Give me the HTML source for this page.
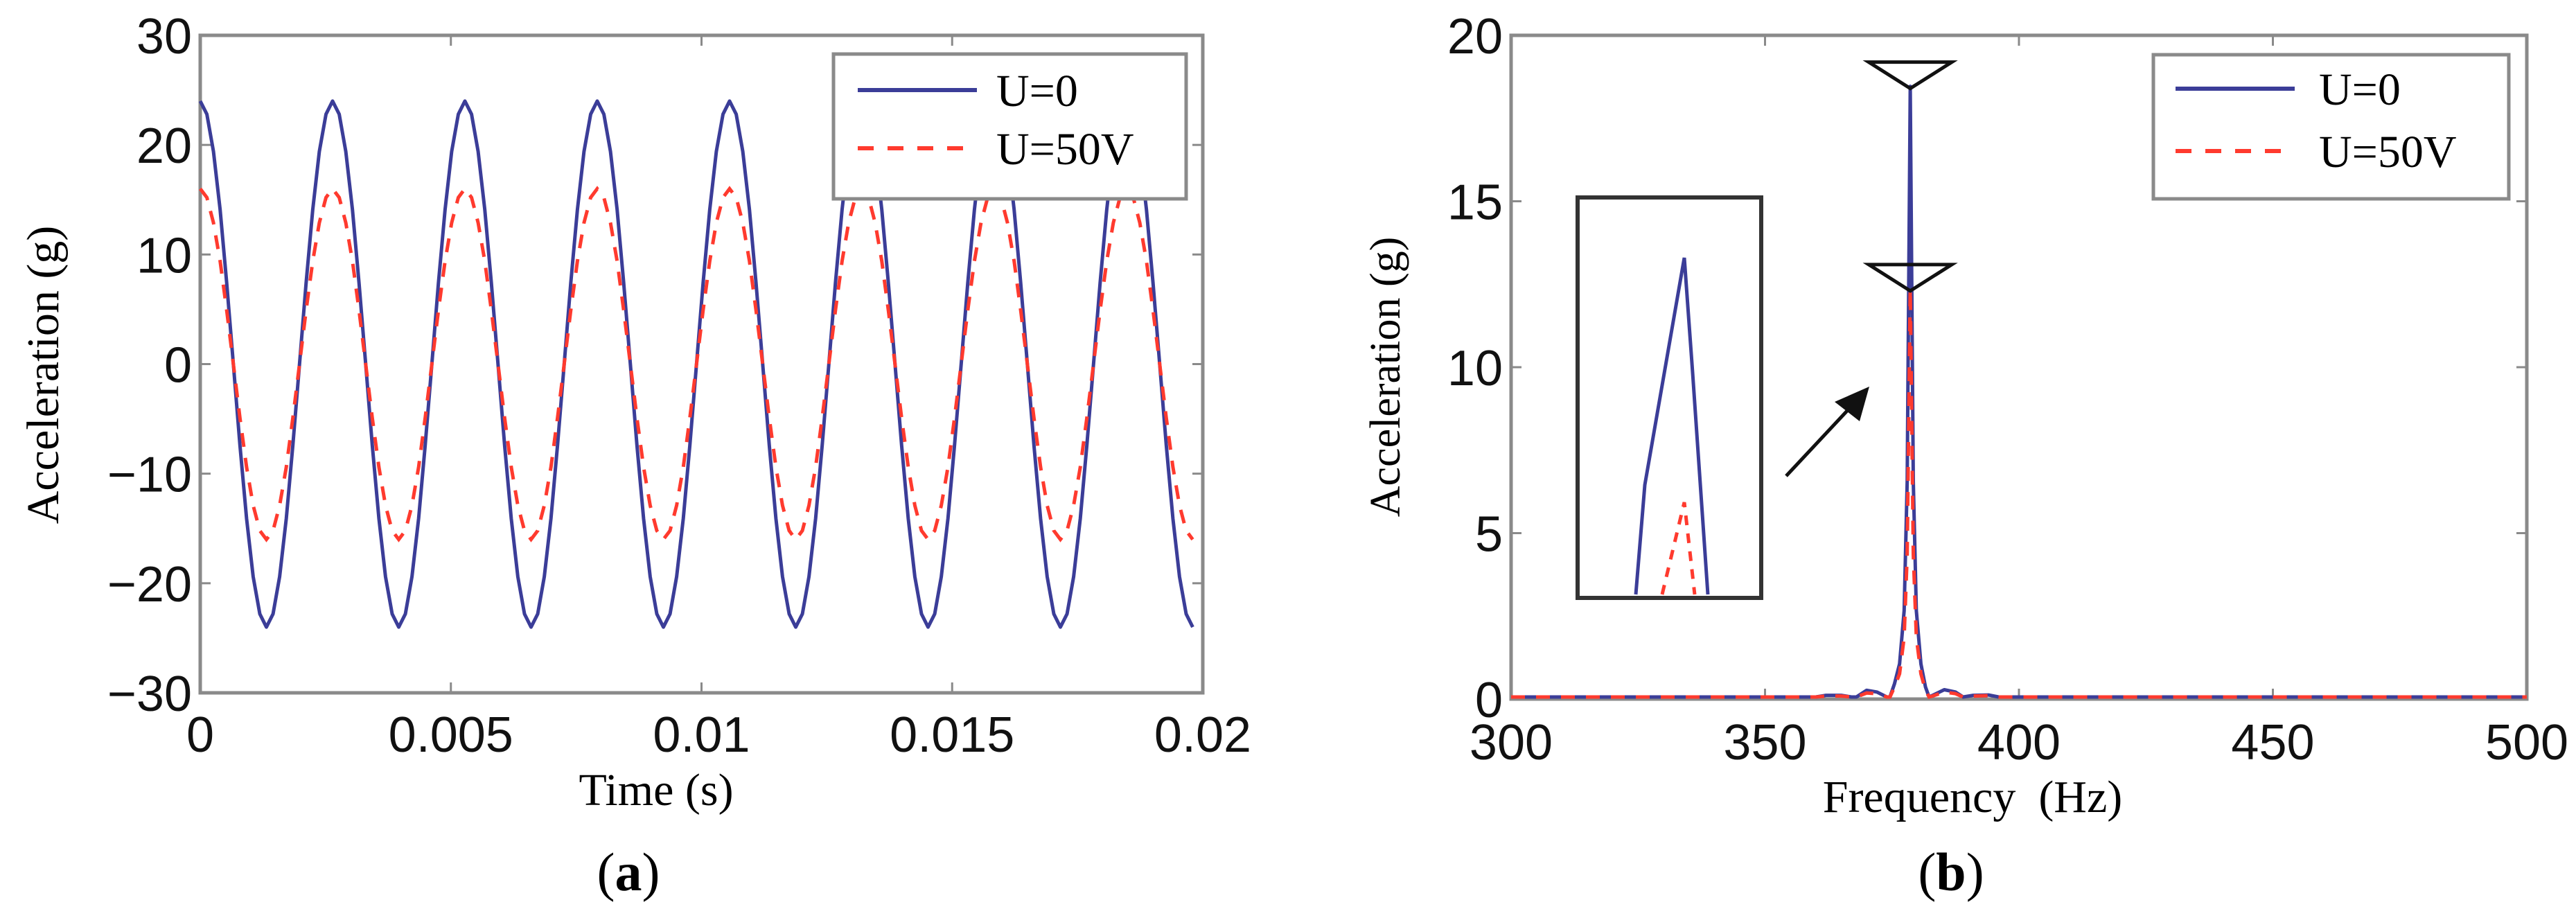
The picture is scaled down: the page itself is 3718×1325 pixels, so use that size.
<!DOCTYPE html>
<html>
<head>
<meta charset="utf-8">
<style>
html,body{margin:0;padding:0;background:#fff;}
svg{display:block;}
.tick{font-family:"Liberation Sans",sans-serif;font-size:72px;fill:#111;}
.lab{font-family:"Liberation Serif",serif;fill:#000;}
</style>
</head>
<body>
<svg id="fig" width="3718" height="1325" viewBox="0 0 3718 1325" xmlns="http://www.w3.org/2000/svg">
<rect width="3718" height="1325" fill="#fff"/>
<g id="pa"></g>
<g id="pb"></g>
</svg>
<script>
// ---------- Chart (a) data ----------
const timeStep = 0.000132;
const blueTime = [24,22.8,19.4,14.1,7.4,0,-7.4,-14.1,-19.4,-22.8,-24,-22.8,-19.4,-14.1,-7.4,0,7.4,14.1,19.4,22.8,
24,22.8,19.4,14.1,7.4,0,-7.4,-14.1,-19.4,-22.8,-24,-22.8,-19.4,-14.1,-7.4,0,7.4,14.1,19.4,22.8,
24,22.8,19.4,14.1,7.4,0,-7.4,-14.1,-19.4,-22.8,-24,-22.8,-19.4,-14.1,-7.4,0,7.4,14.1,19.4,22.8,
24,22.8,19.4,14.1,7.4,0,-7.4,-14.1,-19.4,-22.8,-24,-22.8,-19.4,-14.1,-7.4,0,7.4,14.1,19.4,22.8,
24,22.8,19.4,14.1,7.4,0,-7.4,-14.1,-19.4,-22.8,-24,-22.8,-19.4,-14.1,-7.4,0,7.4,14.1,19.4,22.8,
24,22.8,19.4,14.1,7.4,0,-7.4,-14.1,-19.4,-22.8,-24,-22.8,-19.4,-14.1,-7.4,0,7.4,14.1,19.4,22.8,
24,22.8,19.4,14.1,7.4,0,-7.4,-14.1,-19.4,-22.8,-24,-22.8,-19.4,-14.1,-7.4,0,7.4,14.1,19.4,22.8,
24,22.8,19.4,14.1,7.4,0,-7.4,-14.1,-19.4,-22.8,-24];
const redTime = [16,15.2,12.9,9.4,4.9,0,-4.9,-9.4,-12.9,-15.2,-16,-15.2,-12.9,-9.4,-4.9,0,4.9,9.4,12.9,15.2,
16,15.2,12.9,9.4,4.9,0,-4.9,-9.4,-12.9,-15.2,-16,-15.2,-12.9,-9.4,-4.9,0,4.9,9.4,12.9,15.2,
16,15.2,12.9,9.4,4.9,0,-4.9,-9.4,-12.9,-15.2,-16,-15.2,-12.9,-9.4,-4.9,0,4.9,9.4,12.9,15.2,
16,15.2,12.9,9.4,4.9,0,-4.9,-9.4,-12.9,-15.2,-16,-15.2,-12.9,-9.4,-4.9,0,4.9,9.4,12.9,15.2,
16,15.2,12.9,9.4,4.9,0,-4.9,-9.4,-12.9,-15.2,-16,-15.2,-12.9,-9.4,-4.9,0,4.9,9.4,12.9,15.2,
16,15.2,12.9,9.4,4.9,0,-4.9,-9.4,-12.9,-15.2,-16,-15.2,-12.9,-9.4,-4.9,0,4.9,9.4,12.9,15.2,
16,15.2,12.9,9.4,4.9,0,-4.9,-9.4,-12.9,-15.2,-16,-15.2,-12.9,-9.4,-4.9,0,4.9,9.4,12.9,15.2,
16,15.2,12.9,9.4,4.9,0,-4.9,-9.4,-12.9,-15.2,-16];
const aXTicks = [0,0.005,0.01,0.015,0.02];
const aXTickLabels = ["0","0.005","0.01","0.015","0.02"];
const aYTicks = [-30,-20,-10,0,10,20,30];
const aYTickLabels = ["\u221230","\u221220","\u221210","0","10","20","30"];

// ---------- Chart (b) data ----------
const freqs =   [300,355,360,362,365,367,368,370,372,374,374.6,375.5,376.5,377.4,378,378.6,379.2,379.8,380.7,381.6,382.3,383,385.3,387.5,389,391,394,396,400,500];
const blueAmp = [0,0,0,0.05,0.05,0,0,0.2,0.15,0,0,0.4,1.0,2.6,6.5,18.4,6.5,2.6,1.0,0.3,0,0.05,0.22,0.15,0,0.05,0.06,0,0,0];
const redAmp =  [0,0,0,0.03,0.03,0,0,0.12,0.1,0,0,0.3,0.7,1.8,4.3,12.3,4.3,1.8,0.7,0.2,0,0.03,0.15,0.1,0,0.03,0.04,0,0,0];
const peakValues = [18.4,12.3];
const peakFreq = 378.6;
const bXTicks = [300,350,400,450,500];
const bXTickLabels = ["300","350","400","450","500"];
const bYTicks = [0,5,10,15,20];
const bYTickLabels = ["0","5","10","15","20"];

const NS = "http://www.w3.org/2000/svg";
function mk(parent, tag, attrs){
  const e = document.createElementNS(NS, tag);
  for (const k in attrs) e.setAttribute(k, attrs[k]);
  parent.appendChild(e);
  return e;
}
const BLUE = "#3b3d98", RED = "#ff3a2e", AXC = "#8a8a8a";

function drawAxes(g, L, R, T, B, sx, sy, xt, xtl, yt, ytl, xLabelY){
  const fr = mk(g, "rect", {x:L, y:T, width:R-L, height:B-T, fill:"none", stroke:AXC, "stroke-width":5});
  
  
  xt.forEach((v,i)=>{
    const x = sx(v);
    const t1 = mk(g, "line", {x1:x, x2:x, y1:B, y2:B-15, stroke:AXC, "stroke-width":3});
    
    
    mk(g, "line", {x1:x, x2:x, y1:T, y2:T+15, stroke:AXC, "stroke-width":3});
    const tx = mk(g, "text", {x:x, y:xLabelY, "text-anchor":"middle", class:"tick"});
    tx.textContent = xtl[i];
    
    
  });
  yt.forEach((v,i)=>{
    const y = sy(v);
    const t1 = mk(g, "line", {x1:L, x2:L+15, y1:y, y2:y, stroke:AXC, "stroke-width":3});
    
    
    mk(g, "line", {x1:R, x2:R-15, y1:y, y2:y, stroke:AXC, "stroke-width":3});
    const ty = mk(g, "text", {x:L-12, y:y+26, "text-anchor":"end", class:"tick"});
    ty.textContent = ytl[i];
    
    
  });
}
function linePath(xs, ys, sx, sy){
  return xs.map((x,i)=>(i?"L":"M")+sx(x).toFixed(1)+" "+sy(ys[i]).toFixed(1)).join(" ");
}
function legend(g, x, y, w, h, lx1, lx2, tx, r1, r2){
  const box = mk(g, "rect", {x:x, y:y, width:w, height:h, fill:"#fff", stroke:AXC, "stroke-width":5});
  
  
  const l1 = mk(g, "line", {x1:lx1, x2:lx2, y1:r1, y2:r1, stroke:BLUE, "stroke-width":6});
  
  
  const t1 = mk(g, "text", {x:tx, y:r1+23, class:"lab", "font-size":66});
  t1.textContent = "U=0";
  
  
  const l2 = mk(g, "line", {x1:lx1, x2:lx2, y1:r2, y2:r2, stroke:RED, "stroke-width":6, "stroke-dasharray":"23 20"});
  
  
  const t2 = mk(g, "text", {x:tx, y:r2+23, class:"lab", "font-size":66});
  t2.textContent = "U=50V";
  
  
}

// ---------- Chart (a) ----------
(function(){
  const g = document.getElementById("pa");
  const L=289, R=1736, T=51, B=1000;
  const sx = v => L + (v-0)/(0.02-0)*(R-L);
  const sy = v => B - (v+30)/60*(B-T);
  const times = blueTime.map((_,i)=>i*timeStep);
  drawAxes(g, L, R, T, B, sx, sy, aXTicks, aXTickLabels, aYTicks, aYTickLabels, 1085);
  const bp = mk(g, "path", {d:linePath(times, blueTime, sx, sy), fill:"none", stroke:BLUE, "stroke-width":5, "stroke-linejoin":"round"});
  
  
  const rp = mk(g, "path", {d:linePath(times, redTime, sx, sy), fill:"none", stroke:RED, "stroke-width":5, "stroke-dasharray":"20 16"});
  
  
  legend(g, 1203, 78, 509, 209, 1238, 1410, 1438, 130, 214);
  const yl = mk(g, "text", {x:0, y:0, class:"lab", "font-size":66, "text-anchor":"middle", transform:"translate(84 541) rotate(-90)"});
  yl.textContent = "Acceleration (g)";
  
  
  const xl = mk(g, "text", {x:947, y:1162, class:"lab", "font-size":66, "text-anchor":"middle"});
  xl.textContent = "Time (s)";
  
  
  const cap = mk(g, "text", {x:907, y:1285, class:"lab", "font-size":78, "text-anchor":"middle"});
  cap.innerHTML = '(<tspan font-weight="bold">a</tspan>)';
  
  
})();

// ---------- Chart (b) ----------
(function(){
  const g = document.getElementById("pb");
  const L=2181, R=3647, T=51, B=1009;
  const sx = v => L + (v-300)/200*(R-L);
  const sy = v => B - v/20*(B-T);
  drawAxes(g, L, R, T, B, sx, sy, bXTicks, bXTickLabels, bYTicks, bYTickLabels, 1096);
  const bp = mk(g, "path", {d:linePath(freqs, blueAmp, sx, sy), fill:"none", stroke:BLUE, "stroke-width":5, "stroke-linejoin":"round", transform:"translate(0 -3)"});
  
  
  const rp = mk(g, "path", {d:linePath(freqs, redAmp, sx, sy), fill:"none", stroke:RED, "stroke-width":5, "stroke-dasharray":"20 16", transform:"translate(0 -3)"});
  
  
  peakValues.forEach((v,i)=>{
    const cx = sx(peakFreq), cy = sy(v);
    const m = mk(g, "path", {d:`M${cx-60} ${cy-38} L${cx+60} ${cy-38} L${cx} ${cy} Z`, fill:"none", stroke:"#111", "stroke-width":5, "stroke-linejoin":"miter"});
    
    
  });
  legend(g, 3108, 79, 513, 208, 3140, 3312, 3347, 128, 218);
  const ins = mk(g, "rect", {x:2277, y:285, width:265, height:578, fill:"#fff", stroke:"#333", "stroke-width":6});
  
  
  const ib = mk(g, "path", {d:"M2361 858 L2374 700 L2431 372 L2443 538 L2465 858", fill:"none", stroke:BLUE, "stroke-width":5});
  
  
  const ir = mk(g, "path", {d:"M2399 858 L2431 725 L2446 858", fill:"none", stroke:RED, "stroke-width":5, "stroke-dasharray":"14 12"});
  
  
  const ar = mk(g, "line", {x1:2578, y1:687, x2:2680, y2:578, stroke:"#111", "stroke-width":5});
  
  
  const ah = mk(g, "path", {d:"M2698 558 L2648 580 L2684 608 Z", fill:"#111"});
  
  
  const yl = mk(g, "text", {x:0, y:0, class:"lab", "font-size":62, "text-anchor":"middle", transform:"translate(2020 544) rotate(-90)"});
  yl.textContent = "Acceleration (g)";
  
  
  const xl = mk(g, "text", {x:2847, y:1172, class:"lab", "font-size":66, "text-anchor":"middle"});
  xl.textContent = "Frequency\u00a0\u00a0(Hz)";
  
  
  const cap = mk(g, "text", {x:2816, y:1285, class:"lab", "font-size":78, "text-anchor":"middle"});
  cap.innerHTML = '(<tspan font-weight="bold">b</tspan>)';
  
  
})();
</script>
</body>
</html>
